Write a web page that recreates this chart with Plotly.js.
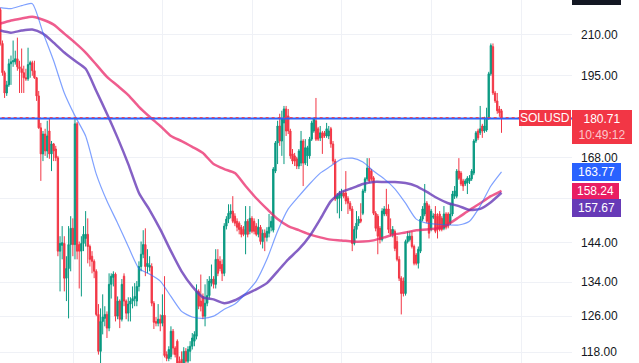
<!DOCTYPE html>
<html>
<head>
<meta charset="utf-8">
<script src="https://cdn.plot.ly/plotly-3.0.1.min.js"></script>
<style>html,body{margin:0;padding:0;background:#fff;}#chart{width:639px;height:363px;}</style>
</head>
<body>
<div id="chart"></div>
<script>
// 4h candles, SOLUSD (prices)
const openP = [219.9,206.8,196.1,189.0,191.8,199.3,200.0,200.0,201.1,198.2,197.5,196.1,194.3,193.9,199.0,199.7,196.8,194.3,188.0,177.4,
169.2,175.4,170.1,176.4,169.2,172.3,170.7,168.0,141.8,143.3,143.8,135.0,137.4,143.5,147.8,143.5,178.7,143.5,141.8,143.8,
145.1,146.2,143.0,140.5,139.2,136.7,126.4,118.2,124.8,125.5,126.4,123.3,133.5,135.2,136.0,126.0,129.5,125.3,135.5,129.5,
126.7,128.8,129.5,130.1,129.5,133.0,137.9,141.0,143.5,137.9,137.7,137.9,129.0,124.8,124.4,125.3,124.4,126.2,117.5,116.7,
117.1,122.6,118.9,120.4,116.1,116.5,115.0,118.2,116.1,118.2,119.3,120.4,121.5,131.8,129.5,130.6,126.0,129.0,130.8,133.8,
134.8,133.5,139.7,139.2,138.4,136.2,148.4,150.3,151.7,152.5,151.1,149.7,149.2,148.1,147.5,146.2,149.7,147.0,150.5,149.7,
148.4,146.2,148.1,144.3,146.5,145.4,146.5,148.1,147.3,164.0,172.6,178.0,173.2,179.0,183.6,181.3,176.4,169.2,168.6,167.7,
165.5,166.4,173.2,166.4,168.6,168.6,173.8,176.4,179.7,177.1,174.2,175.8,175.8,174.8,174.8,177.1,172.3,167.0,155.9,156.1,
156.7,157.6,157.6,156.1,154.7,153.1,143.8,147.5,149.2,150.3,151.9,158.2,161.7,164.9,164.0,162.0,151.9,151.1,147.8,144.8,
151.7,153.1,153.1,147.5,146.2,147.0,144.3,139.7,135.0,134.3,131.3,144.3,144.8,145.7,143.0,140.8,138.7,141.8,150.3,151.7,
154.7,153.9,147.5,150.8,151.7,151.1,151.7,150.5,147.8,151.7,151.7,149.2,151.7,156.7,156.7,164.0,163.4,161.1,160.2,160.5,
161.1,161.7,163.4,173.2,176.4,175.8,178.0,176.4,176.7,180.7,195.7,205.6,189.0,186.3,183.6,183.0];
const highP = [220.7,207.9,196.8,193.2,201.1,202.3,207.9,204.1,209.0,200.4,204.9,198.6,197.5,205.2,200.4,200.4,200.4,194.6,189.7,179.0,
176.4,177.1,179.7,180.3,173.2,172.6,171.7,168.6,145.7,148.4,145.7,140.5,148.4,151.1,150.5,180.3,179.3,144.3,145.7,148.4,
152.5,150.5,143.5,141.8,139.7,137.2,128.8,127.8,131.1,128.3,127.1,136.2,136.2,136.7,136.4,130.6,129.9,134.8,136.2,129.9,
130.4,130.4,133.0,133.8,134.3,139.2,144.3,147.3,147.8,142.3,140.5,138.7,129.5,125.8,128.8,126.4,131.1,135.5,118.2,119.3,
123.7,123.1,119.3,120.8,117.1,118.2,119.1,118.9,119.3,120.4,122.2,122.6,133.5,132.3,135.9,131.3,133.5,134.8,135.5,138.4,
135.5,142.3,142.3,140.5,139.7,149.2,151.1,154.4,154.4,156.7,151.9,150.5,149.7,148.7,148.4,153.9,150.3,153.9,151.1,150.5,
149.2,150.3,148.7,147.5,147.5,148.1,151.7,151.1,165.2,173.2,179.7,182.0,183.0,184.6,184.6,183.6,177.1,170.7,169.5,168.3,
170.7,176.4,173.8,173.8,171.7,174.5,179.7,180.7,187.3,177.7,178.0,176.4,176.4,179.0,178.0,177.7,173.2,167.7,157.6,158.2,
158.8,158.2,164.0,156.7,155.3,153.9,148.4,152.5,151.1,154.7,158.8,162.2,167.9,167.9,164.6,162.5,152.5,151.7,148.4,153.3,
153.9,158.8,154.4,150.5,148.4,147.5,145.7,140.5,135.5,135.2,144.8,147.0,147.0,147.0,143.5,141.3,143.0,151.1,153.9,160.2,
155.3,154.4,153.1,151.9,153.9,151.9,152.5,151.1,153.9,152.2,152.2,154.7,158.2,159.6,164.6,167.9,164.0,161.7,161.7,162.5,
162.8,164.6,173.8,176.4,177.1,184.6,178.7,181.0,184.0,196.4,206.8,206.8,189.7,189.0,184.6,183.6];
const lowP = [206.0,195.0,187.3,188.0,191.1,191.8,198.2,199.0,196.8,189.0,189.0,189.0,193.2,193.2,194.3,195.0,193.9,186.3,177.1,161.1,
167.0,168.6,168.0,167.7,164.0,167.0,167.0,140.5,131.8,139.7,131.8,129.5,125.5,136.7,140.5,139.7,139.7,132.5,130.6,141.8,
143.0,138.7,137.9,136.2,135.0,126.0,117.5,115.7,121.9,123.7,121.1,122.6,130.1,133.0,124.8,125.3,123.3,124.8,128.3,125.3,
124.8,124.8,127.8,128.3,128.3,131.8,136.7,140.0,135.5,136.2,136.7,128.3,123.1,123.7,123.7,122.6,123.7,116.9,116.1,116.1,
116.5,117.5,116.9,114.6,113.6,113.6,114.4,115.0,115.4,116.1,118.6,119.3,120.8,127.6,127.1,125.3,123.7,128.3,130.1,133.0,
132.5,132.5,135.5,136.7,134.3,135.5,147.5,149.2,150.5,149.2,148.4,147.0,146.2,145.4,145.7,141.0,145.4,146.2,146.5,146.2,
145.7,145.4,143.5,142.5,141.8,144.3,145.4,147.0,146.7,163.4,166.1,171.7,168.6,166.1,174.8,175.4,167.7,166.1,165.5,164.6,
164.6,165.5,159.6,165.8,165.5,167.7,173.2,175.8,173.2,173.2,173.2,169.2,174.2,174.2,173.8,171.1,166.1,155.3,151.9,150.5,
152.5,156.1,154.4,151.7,152.5,141.8,143.3,145.1,148.4,149.2,151.4,157.6,161.1,160.5,161.1,151.4,147.0,141.0,143.8,144.3,
151.1,151.1,146.5,145.7,145.4,141.8,139.2,134.3,126.4,130.6,130.8,143.8,144.3,142.5,138.2,138.2,137.4,141.3,149.7,151.1,
149.2,145.1,147.0,150.3,146.5,145.1,147.0,147.0,147.3,147.5,147.8,148.7,151.1,155.9,156.1,161.4,159.6,158.2,159.6,157.3,
160.2,161.1,162.8,172.6,173.5,175.1,174.2,175.8,176.1,180.0,195.0,188.3,185.6,182.0,181.0,175.8];
const closeP = [206.8,196.1,189.0,191.8,199.3,200.0,200.4,201.1,198.2,197.5,196.1,194.3,193.9,199.0,199.7,196.8,194.3,188.0,177.4,169.2,
175.4,170.1,174.8,169.2,172.3,170.1,168.0,141.8,143.8,144.0,135.0,137.4,143.5,147.8,143.5,178.7,141.8,141.8,143.8,146.2,
146.2,143.0,139.7,139.2,136.7,126.4,118.2,124.8,125.8,126.4,123.3,133.5,135.5,136.0,126.0,129.5,125.3,133.5,129.5,126.7,
128.8,129.5,130.1,130.6,133.0,137.9,141.0,143.5,137.9,138.7,138.2,129.0,124.6,124.4,125.3,124.4,126.2,117.3,116.7,118.6,
122.6,118.9,117.5,115.0,114.4,115.0,118.2,116.1,118.6,119.3,121.1,121.9,131.8,128.3,128.3,126.0,129.0,130.8,134.3,134.8,
133.5,139.7,136.2,137.4,136.2,148.4,150.3,151.9,152.5,149.7,149.2,148.1,147.5,146.2,146.2,149.7,146.2,150.5,147.0,147.0,
146.2,148.1,144.3,146.5,145.4,147.0,148.1,149.7,164.6,172.6,178.0,173.2,180.3,183.6,176.4,176.4,168.6,167.0,167.0,165.5,
170.1,173.2,166.4,171.1,171.1,173.8,179.0,180.3,173.8,173.8,175.8,174.2,174.8,177.1,176.4,172.3,167.0,155.9,156.7,157.3,
157.6,156.7,155.3,154.7,153.1,143.8,147.5,149.2,150.3,149.7,158.2,161.7,164.9,161.1,161.7,151.9,147.8,145.7,144.8,152.5,
153.1,151.7,147.5,146.2,147.5,142.5,139.7,135.0,131.3,131.3,144.3,145.7,145.7,143.0,138.7,138.7,142.3,150.3,153.1,154.7,
149.7,146.5,152.5,151.1,147.0,147.5,147.5,147.5,151.7,148.1,148.4,151.7,157.3,158.2,164.0,161.9,160.2,159.6,161.1,161.9,
161.9,164.0,173.2,175.8,174.2,177.1,176.4,178.0,180.7,195.7,206.0,189.0,186.3,183.0,182.3,180.71];

// moving averages, one value every 5 candles
const maStep = 5;
const maBlue = [220.7,220.3,221.5,222.3,210.9,200.4,189.0,181.3,174.8,163.1,155.3,149.2,143.0,137.4,136.0,134.3,130.6,127.1,125.8,125.5,
126.0,127.6,128.8,131.3,134.3,139.7,147.0,153.1,156.7,160.2,163.4,165.5,167.6,167.9,166.7,164.0,161.7,158.8,154.7,150.3,
149.2,148.9,148.7,148.7,149.7,153.9,159.6,163.77];
const maPink = [214.4,215.6,216.4,217.1,215.9,214.0,210.5,207.1,203.4,199.0,194.6,191.5,188.3,184.3,181.0,178.0,174.8,173.2,171.4,169.5,
166.1,164.6,163.4,159.6,156.1,153.1,150.3,148.4,147.3,146.2,145.4,144.8,144.6,144.3,144.3,144.6,145.4,146.2,146.7,147.3,
147.5,147.8,148.9,150.8,152.8,154.7,156.7,158.24];
const maPurple = [211.7,210.9,211.7,212.1,210.5,207.1,203.4,200.4,197.5,189.7,182.0,174.2,166.1,157.6,152.8,147.5,141.8,136.7,133.0,130.4,
129.9,129.0,129.7,131.1,132.3,133.8,136.7,139.7,142.3,145.7,150.3,155.3,157.9,159.0,160.2,160.8,160.8,160.8,160.5,159.6,
157.9,156.1,154.7,153.9,152.8,153.1,155.0,157.67];

const lastPrice = 180.71;
const lineLevel = 180.45;
const topLabel = 224.83;
const symbol = 'SOLUSD';
const timer = '10:49:12';

const tickVals = [118,126,134,144,156,168,180,195,210];
const tickText = ['118.00','126.00','134.00','144.00','','168.00','','195.00','210.00'];
const weekGrid = [34.2,76.2,118.2,160.2,202.2,244.2];

const idx = closeP.map((_, i) => i);
const maX = maBlue.map((_, k) => k * maStep);
const FONT = 'Liberation Sans, Arial, sans-serif';

const traces = [
  {type:'scatter', mode:'lines', x:maX, y:maPink, line:{color:'rgba(233,30,99,0.72)', width:2.5, shape:'spline', smoothing:0.6}, hoverinfo:'skip'},
  {type:'scatter', mode:'lines', x:maX, y:maPurple, line:{color:'rgba(103,58,183,0.8)', width:2.5, shape:'spline', smoothing:0.6}, hoverinfo:'skip'},
  {type:'scatter', mode:'lines', x:maX, y:maBlue, line:{color:'rgba(41,98,255,0.6)', width:1.2, shape:'spline', smoothing:0.6}, hoverinfo:'skip'},
  {type:'candlestick', x:idx, open:openP, high:highP, low:lowP, close:closeP,
   increasing:{line:{color:'#089981', width:1}, fillcolor:'#089981'},
   decreasing:{line:{color:'#f23645', width:1}, fillcolor:'#f23645'},
   whiskerwidth:0, hoverinfo:'skip'},
  {type:'scatter', mode:'lines', x:[-5, 300], y:[lineLevel, lineLevel], line:{color:'#2962ff', width:2}, hoverinfo:'skip'},
  {type:'scatter', mode:'lines', x:[-5, 300], y:[lastPrice, lastPrice], line:{color:'#f23645', width:1, dash:'dot'}, hoverinfo:'skip'}
];

const lg = v => Math.log10(v);
const box = (text, y, color, extra) => Object.assign({
  xref:'paper', x:1, xanchor:'left', yref:'y', y:lg(y), yanchor:'middle',
  text:text, showarrow:false, bgcolor:color, borderwidth:0, borderpad:2, width:45, align:'center',
  font:{family:FONT, size:12, color:'#ffffff'}
}, extra || {});

const annotations = [
  box(symbol, lastPrice, '#f23645', {x:571/572, xanchor:'right', width:null, borderpad:1}),
  box(lastPrice.toFixed(2) + '<br><span style="color:rgba(255,255,255,0.72)">' + timer + '</span>', lastPrice, '#f23645', {yanchor:'top', yshift:8, width:56}),
  box(maBlue[maBlue.length-1].toFixed(2), maBlue[maBlue.length-1], '#2962ff'),
  box(maPink[maPink.length-1].toFixed(2), maPink[maPink.length-1], '#e91e63', {borderpad:1}),
  box(maPurple[maPurple.length-1].toFixed(2), maPurple[maPurple.length-1], '#673ab7', {yshift:-15}),
  box(topLabel.toFixed(2), topLabel, '#131722', {yref:'paper', y:1, yshift:4})
];

const layout = {
  width:639, height:363,
  margin:{l:0, r:67, t:0, b:0, pad:0},
  paper_bgcolor:'#ffffff', plot_bgcolor:'#ffffff',
  showlegend:false,
  boxgap:0.12,
  xaxis:{range:[-0.15, 268.05], tickvals:weekGrid, showticklabels:false, ticks:'', showgrid:true,
         gridcolor:'#eff1f6', gridwidth:1, zeroline:false, showline:false, rangeslider:{visible:false}, fixedrange:true},
  yaxis:{type:'log', side:'right', range:[2.06343, 2.34982], tickvals:tickVals, ticktext:tickText, ticks:'',
         showgrid:true, gridcolor:'#eff1f6', gridwidth:1, zeroline:false, showline:false, ticklabelstandoff:8,
         tickfont:{family:FONT, size:12, color:'#131722'}, fixedrange:true},
  annotations:annotations
};

Plotly.newPlot('chart', traces, layout, {staticPlot:true, displayModeBar:false});
</script>
</body>
</html>
